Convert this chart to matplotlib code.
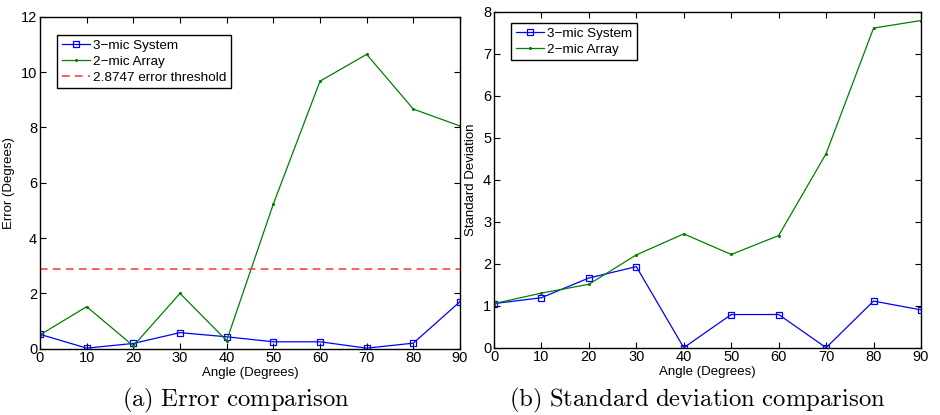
import numpy as np
import matplotlib
matplotlib.use("Agg")
import matplotlib.pyplot as plt

plt.rcParams['font.family'] = ['Liberation Sans', 'DejaVu Sans']
plt.rcParams['mathtext.fontset'] = 'cm'

angles = [0, 10, 20, 30, 40, 50, 60, 70, 80, 90]

# (a) error in degrees
err_3mic = [0.52, 0.02, 0.19, 0.58, 0.43, 0.25, 0.25, 0.02, 0.20, 1.70]
err_2mic = [0.50, 1.52, 0.10, 2.00, 0.29, 5.23, 9.67, 10.64, 8.66, 8.05]
threshold = 2.8747

# (b) standard deviation
std_3mic = [1.05, 1.19, 1.66, 1.93, 0.0, 0.79, 0.79, 0.0, 1.11, 0.90]
std_2mic = [1.05, 1.30, 1.51, 2.21, 2.71, 2.22, 2.67, 4.62, 7.61, 7.79]

labels = ["3\u2212mic System", "2\u2212mic Array"]
blue = "#0000ff"
green = "#008000"


def style_axes(ax, ymax, ystep):
    ax.set_xlim(0, 90)
    ax.set_ylim(0, ymax)
    ax.set_xticks(angles)
    ax.set_yticks(np.arange(0, ymax + 0.1, ystep))
    ax.tick_params(direction='in', top=True, right=True, length=4,
                   width=0.8, labelsize=10.5, pad=2)
    for s in ax.spines.values():
        s.set_linewidth(1.0)
    ax.set_xlabel("Angle (Degrees)", fontsize=9.5, labelpad=1)


def add_legend(ax, anchor):
    leg = ax.legend(loc='upper left', bbox_to_anchor=anchor, fontsize=9.7,
                    fancybox=False, edgecolor='black', framealpha=1,
                    handlelength=2.1, handletextpad=0.25, borderpad=0.35,
                    labelspacing=0.25, borderaxespad=0)
    leg.get_frame().set_linewidth(1.0)


fig = plt.figure(figsize=(9.4, 4.15), dpi=100)
W, H = 940, 415

# left panel
ax1 = fig.add_axes([40 / W, 1 - 348.7 / H, 420 / W, (348.7 - 16.7) / H])
ax1.plot(angles, err_3mic, color=blue, lw=0.9, marker='s', ms=4,
         mfc='none', mec=blue, mew=0.9, label=labels[0])
ax1.plot(angles, err_2mic, color=green, lw=0.9, marker='.', ms=2.5,
         label=labels[1])
ax1.axhline(threshold, color='#ff3333', lw=1.1, ls=(0, (5, 3.5)),
            label="2.8747 error threshold")
style_axes(ax1, 12, 2)
ax1.set_ylabel("Error (Degrees)", fontsize=9.5, labelpad=4)
add_legend(ax1, (0.04, 0.945))

# right panel
ax2 = fig.add_axes([494 / W, 1 - 347.7 / H, 427 / W, (347.7 - 11.7) / H])
ax2.plot(angles, std_3mic, color=blue, lw=0.9, marker='s', ms=4,
         mfc='none', mec=blue, mew=0.9, label=labels[0])
ax2.plot(angles, std_2mic, color=green, lw=0.9, marker='.', ms=2.5,
         label=labels[1])
style_axes(ax2, 8, 1)
ax2.set_ylabel("Standard Deviation", fontsize=9.5, labelpad=4)
add_legend(ax2, (0.04, 0.967))

# captions
fig.text(236 / W, 1 - 400 / H, r"$\mathrm{(a)\ Error\ comparison}$",
         ha='center', va='center', fontsize=17.8)
fig.text(697 / W, 1 - 400 / H, r"$\mathrm{(b)\ Standard\ deviation\ comparison}$",
         ha='center', va='center', fontsize=17.8)

plt.savefig("out.png", dpi=100)
